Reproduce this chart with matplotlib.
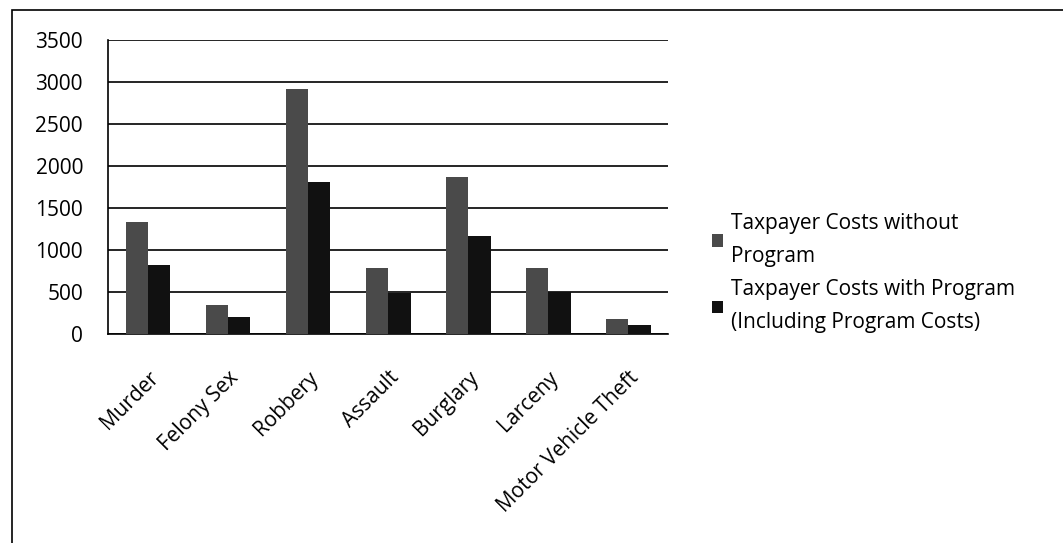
import numpy as np
import matplotlib.pyplot as plt
from matplotlib.patches import Rectangle

categories = ['Murder', 'Felony Sex', 'Robbery', 'Assault', 'Burglary', 'Larceny', 'Motor Vehicle Theft']
without_prog = [1335, 345, 2915, 785, 1870, 785, 175]
with_prog = [820, 205, 1810, 485, 1165, 495, 105]
legend_labels = ['Taxpayer Costs without\nProgram', 'Taxpayer Costs with Program\n(Including Program Costs)']

plt.rcParams['font.family'] = ['Open Sans', 'DejaVu Sans']

fig = plt.figure(figsize=(10.63, 5.43), dpi=100)
ax = fig.add_axes([0.1016, 0.385, 0.527, 0.541])

x = np.arange(len(categories))
w = 0.28
b1 = ax.bar(x - w/2, without_prog, w, color='#4a4a4a', zorder=3, label=legend_labels[0])
b2 = ax.bar(x + w/2, with_prog, w, color='#111111', zorder=3, label=legend_labels[1])

ax.set_xlim(-0.5, len(categories) - 0.5)
ax.set_ylim(0, 3500)
ax.set_yticks(range(0, 3501, 500))
ax.yaxis.grid(True, color='black', linewidth=1.2, zorder=0)
ax.tick_params(axis='both', length=0, labelsize=15, colors='black')
ax.tick_params(axis='y', pad=18)
ax.tick_params(axis='x', pad=24)
ax.set_xticks(x)
ax.set_xticklabels(categories, rotation=45, ha='right', rotation_mode='anchor')
for s in ['top', 'right']:
    ax.spines[s].set_visible(False)
ax.spines['left'].set_linewidth(1.2)
ax.spines['bottom'].set_linewidth(1.2)

leg = fig.legend(handles=[b1, b2], loc='center left', bbox_to_anchor=(0.652, 0.497),
                 frameon=False, fontsize=15, handlelength=0.55, handleheight=0.55,
                 handletextpad=0.35, labelspacing=0.6)
for t in leg.get_texts():
    t.set_linespacing(1.75)

fig.patches.append(Rectangle((12/1063, -0.1), 1.2, 1 - 10/543 + 0.1, transform=fig.transFigure,
                             fill=False, edgecolor='black', linewidth=1.2))

fig.savefig('out.png', dpi=100)
